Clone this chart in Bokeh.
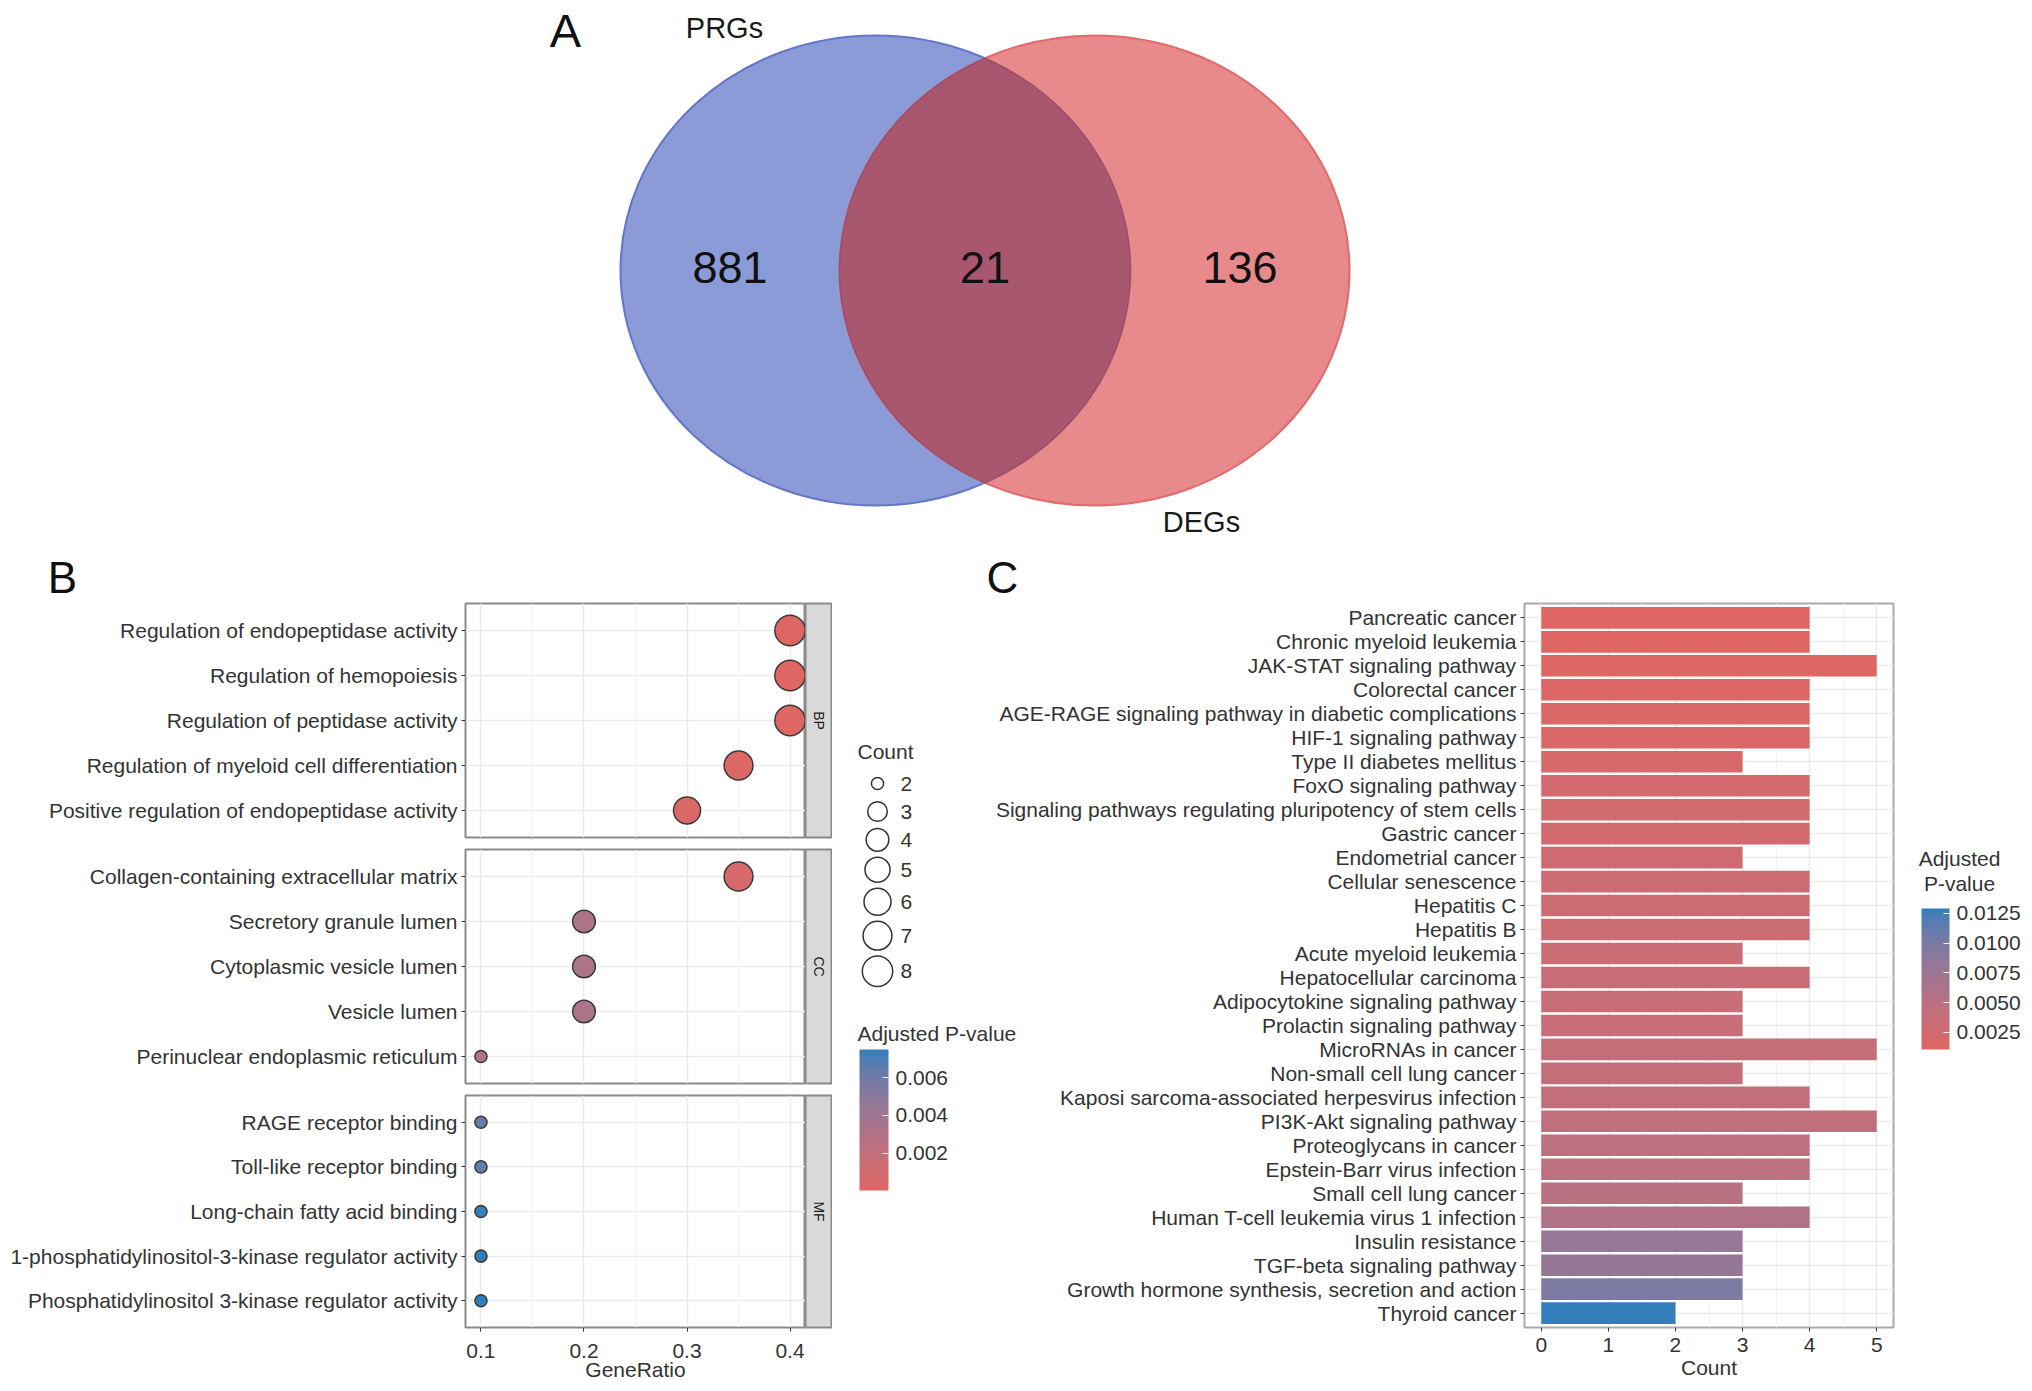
import math
import numpy as np
from bokeh.plotting import figure
from bokeh.layouts import row, column
from bokeh.models import (Range1d, FactorRange, FixedTicker, LinearColorMapper, ColorBar,
                          PrintfTickFormatter, ColumnDataSource, Grid, LinearAxis)
from bokeh.core.properties import value
from bokeh.embed import file_html
from bokeh.resources import INLINE

FONT = "Liberation Sans"
TXT = "#333333"

# ---------------- data ----------------
venn_sets = ["PRGs", "DEGs"]
venn_counts = [881, 21, 136]          # PRGs only, both, DEGs only

go_terms = [
    "Regulation of endopeptidase activity",
    "Regulation of hemopoiesis",
    "Regulation of peptidase activity",
    "Regulation of myeloid cell differentiation",
    "Positive regulation of endopeptidase activity",
    "Collagen-containing extracellular matrix",
    "Secretory granule lumen",
    "Cytoplasmic vesicle lumen",
    "Vesicle lumen",
    "Perinuclear endoplasmic reticulum",
    "RAGE receptor binding",
    "Toll-like receptor binding",
    "Long-chain fatty acid binding",
    "1-phosphatidylinositol-3-kinase regulator activity",
    "Phosphatidylinositol 3-kinase regulator activity",
]
go_ontology = ["BP", "BP", "BP", "BP", "BP",
               "CC", "CC", "CC", "CC", "CC",
               "MF", "MF", "MF", "MF", "MF"]
go_gene_ratio = [0.40, 0.40, 0.40, 0.35, 0.30,
                 0.35, 0.20, 0.20, 0.20, 0.10,
                 0.10, 0.10, 0.10, 0.10, 0.10]
go_count = [8, 8, 8, 7, 6,
            7, 4, 4, 4, 2,
            2, 2, 2, 2, 2]
go_padj = [0.00002, 0.00005, 0.00006, 0.00020, 0.00040,
           0.00060, 0.00330, 0.00330, 0.00335, 0.00290,
           0.00620, 0.00625, 0.00740, 0.00748, 0.00750]

kegg_terms = [
    "Pancreatic cancer",
    "Chronic myeloid leukemia",
    "JAK-STAT signaling pathway",
    "Colorectal cancer",
    "AGE-RAGE signaling pathway in diabetic complications",
    "HIF-1 signaling pathway",
    "Type II diabetes mellitus",
    "FoxO signaling pathway",
    "Signaling pathways regulating pluripotency of stem cells",
    "Gastric cancer",
    "Endometrial cancer",
    "Cellular senescence",
    "Hepatitis C",
    "Hepatitis B",
    "Acute myeloid leukemia",
    "Hepatocellular carcinoma",
    "Adipocytokine signaling pathway",
    "Prolactin signaling pathway",
    "MicroRNAs in cancer",
    "Non-small cell lung cancer",
    "Kaposi sarcoma-associated herpesvirus infection",
    "PI3K-Akt signaling pathway",
    "Proteoglycans in cancer",
    "Epstein-Barr virus infection",
    "Small cell lung cancer",
    "Human T-cell leukemia virus 1 infection",
    "Insulin resistance",
    "TGF-beta signaling pathway",
    "Growth hormone synthesis, secretion and action",
    "Thyroid cancer",
]
kegg_count = [4, 4, 5, 4, 4, 4, 3, 4, 4, 4,
              3, 4, 4, 4, 3, 4, 3, 3, 5, 3,
              4, 5, 4, 4, 3, 4, 3, 3, 3, 2]
kegg_padj = [0.00107, 0.00110, 0.00130, 0.00150, 0.00170, 0.00180, 0.00210, 0.00240, 0.00260, 0.00265,
             0.00290, 0.00310, 0.00320, 0.00330, 0.00340, 0.00360, 0.00370, 0.00375, 0.00390, 0.00400,
             0.00420, 0.00450, 0.00470, 0.00490, 0.00520, 0.00570, 0.00800, 0.00820, 0.00980, 0.01292]

count_breaks = [2, 3, 4, 5, 6, 7, 8]
go_padj_ticks = [0.002, 0.004, 0.006]
kegg_padj_ticks = [0.0025, 0.0050, 0.0075, 0.0100, 0.0125]
gene_ratio_ticks = [0.1, 0.2, 0.3, 0.4]
count_ticks = [0, 1, 2, 3, 4, 5]

# ---------------- colour scale (Lab interpolation like ggplot2) ----------------
WHITE = (0.95047, 1.0, 1.08883)


def _lin(c):
    return c / 12.92 if c <= 0.04045 else ((c + 0.055) / 1.055) ** 2.4


def _delin(c):
    return 12.92 * c if c <= 0.0031308 else 1.055 * c ** (1 / 2.4) - 0.055


def hex_to_lab(h):
    r, g, b = [_lin(int(h[i:i + 2], 16) / 255) for i in (1, 3, 5)]
    X = 0.4124564 * r + 0.3575761 * g + 0.1804375 * b
    Y = 0.2126729 * r + 0.7151522 * g + 0.0721750 * b
    Z = 0.0193339 * r + 0.1191920 * g + 0.9503041 * b

    def f(t):
        return t ** (1 / 3) if t > (6 / 29) ** 3 else t / (3 * (6 / 29) ** 2) + 4 / 29
    fx, fy, fz = f(X / WHITE[0]), f(Y / WHITE[1]), f(Z / WHITE[2])
    return (116 * fy - 16, 500 * (fx - fy), 200 * (fy - fz))


def lab_to_hex(lab):
    L, a, b = lab
    fy = (L + 16) / 116
    fx = fy + a / 500
    fz = fy - b / 200

    def finv(t):
        return t ** 3 if t > 6 / 29 else 3 * (6 / 29) ** 2 * (t - 4 / 29)
    X, Y, Z = WHITE[0] * finv(fx), WHITE[1] * finv(fy), WHITE[2] * finv(fz)
    r = 3.2404542 * X - 1.5371385 * Y - 0.4985314 * Z
    g = -0.9692660 * X + 1.8760108 * Y + 0.0415560 * Z
    bb = 0.0556434 * X - 0.2040259 * Y + 1.0572252 * Z
    out = [min(1.0, max(0.0, _delin(min(1.0, max(0.0, c))))) for c in (r, g, bb)]
    return "#%02x%02x%02x" % tuple(int(round(c * 255)) for c in out)


LOW, HIGH = "#e06663", "#327eba"
_l0, _l1 = np.array(hex_to_lab(LOW)), np.array(hex_to_lab(HIGH))
PALETTE = [lab_to_hex(_l0 + (_l1 - _l0) * t) for t in np.linspace(0, 1, 256)]

mapper_go = LinearColorMapper(palette=PALETTE, low=min(go_padj), high=max(go_padj))
mapper_kegg = LinearColorMapper(palette=PALETTE, low=min(kegg_padj), high=max(kegg_padj))

CMIN, CMAX = min(go_count), max(go_count)


def dot_size(c):
    return 3.8 * (3.2 + 4.8 * math.sqrt((c - CMIN) / (CMAX - CMIN)))


def bare(p):
    p.xaxis.visible = False
    p.yaxis.visible = False
    for g in p.grid:
        g.visible = False


def txt(p, x, y, s, size="21px", align="left", color=TXT, baseline="middle", angle=0.0):
    p.text(x=[x], y=[y], text=[s], text_font=value(FONT), text_font_size=size,
           text_align=align, text_baseline=baseline, text_color=color, angle=angle)


# page geometry (pixels)
W, H = 2032, 1391
VENN_H = 602
BOT_H = H - VENN_H
FRAME_TOP, FRAME_BOT = 603, 1327      # shared top / bottom of the lower plot frames
BORDER_TOP, BORDER_BOT = FRAME_TOP - VENN_H, H - FRAME_BOT

# ---------------- panel A: Venn ----------------
venn = figure(width=W, height=VENN_H, x_range=Range1d(0, W), y_range=Range1d(VENN_H, 0),
              min_border=0, toolbar_location=None, output_backend="svg",
              x_axis_location=None, y_axis_location=None, outline_line_color=None)
bare(venn)
cx_l, cx_r, cy, rx, ry = 875, 1094, 270, 255, 235
venn.ellipse(x=[cx_l], y=[cy], width=2 * rx, height=2 * ry, fill_color="#8a9bd8",
             line_color="#6476c8", line_width=2)
venn.ellipse(x=[cx_r], y=[cy], width=2 * rx, height=2 * ry, fill_color="#e8898b",
             line_color="#e06a6c", line_width=2)
t_int = math.acos(((cx_l + cx_r) / 2 - cx_l) / rx)
th = np.linspace(-t_int, t_int, 120)
ph = np.linspace(math.pi - t_int, math.pi + t_int, 120)
lens_x = np.concatenate([cx_l + rx * np.cos(th), cx_r + rx * np.cos(ph)])
lens_y = np.concatenate([cy + ry * np.sin(th), cy + ry * np.sin(ph)])
venn.patch(lens_x, lens_y, fill_color="#a9566f", line_color="#9b4f6c", line_width=1.5)
lens_l, lens_r = cx_r - rx, cx_l + rx
region_x = [(cx_l - rx + lens_l) / 2, (lens_l + lens_r) / 2, (lens_r + cx_r + rx) / 2]
for xx, n in zip(region_x, venn_counts):
    txt(venn, xx, cy - 3, str(n), size="45px", align="center", color="#111111")
txt(venn, 724, 27, venn_sets[0], size="29px", align="center", color="#1a1a1a")
txt(venn, 1201, 521, venn_sets[1], size="29px", align="center", color="#1a1a1a")
txt(venn, 565, 30, "A", size="47px", align="center", color="#111111")
txt(venn, 62, 577, "B", size="44px", align="center", color="#111111")
txt(venn, 1002, 577, "C", size="44px", align="center", color="#111111")

# ---------------- panel B: GO dot plot ----------------
x_range_b = Range1d(0.085, 0.415)
minor_b = [(a + b) / 2 for a, b in zip(gene_ratio_ticks[:-1], gene_ratio_ticks[1:])]
facet_layout = {"BP": (241, BORDER_TOP, 6), "CC": (246, 6, 6), "MF": (302, 6, BORDER_BOT)}
rows_b = []
for facet in ["BP", "CC", "MF"]:
    h, top, bot = facet_layout[facet]
    idx = [i for i, o in enumerate(go_ontology) if o == facet]
    terms = [go_terms[i] for i in idx]
    src = ColumnDataSource(dict(
        x=[go_gene_ratio[i] for i in idx], y=terms,
        size=[dot_size(go_count[i]) for i in idx], padj=[go_padj[i] for i in idx]))
    p = figure(width=805, height=h, x_range=x_range_b,
               y_range=FactorRange(factors=terms[::-1], range_padding=0.04),
               min_border_left=465, min_border_right=0, min_border_top=top, min_border_bottom=bot,
               toolbar_location=None, output_backend="svg", x_axis_location=None,
               outline_line_color="#8a8a8a", outline_line_width=2)
    for g in p.xgrid:
        g.visible = False
    p.add_layout(Grid(dimension=0, ticker=FixedTicker(ticks=gene_ratio_ticks, minor_ticks=minor_b),
                      grid_line_color="#ebebeb", grid_line_width=1.5,
                      minor_grid_line_color="#f3f3f3", minor_grid_line_width=1))
    p.ygrid.grid_line_color = "#ebebeb"
    p.ygrid.grid_line_width = 1.5
    p.yaxis.axis_line_color = None
    p.yaxis.major_tick_out = 4
    p.yaxis.major_tick_in = 0
    p.yaxis.major_tick_line_color = TXT
    p.yaxis.major_label_standoff = 4
    p.yaxis.major_label_text_font = FONT
    p.yaxis.major_label_text_font_size = "21px"
    p.yaxis.major_label_text_color = TXT
    if facet == "MF":
        ax = LinearAxis(ticker=FixedTicker(ticks=gene_ratio_ticks), axis_label="GeneRatio",
                        axis_line_color=None, major_tick_out=4, major_tick_in=0,
                        major_tick_line_color=TXT, minor_tick_line_color=None,
                        major_label_standoff=12, axis_label_standoff=-3,
                        major_label_text_font=FONT, major_label_text_font_size="21px",
                        major_label_text_color=TXT, axis_label_text_font=FONT,
                        axis_label_text_font_size="21px", axis_label_text_color=TXT,
                        axis_label_text_font_style="normal")
        p.add_layout(ax, "below")
    p.scatter(x="x", y="y", size="size", source=src, marker="circle",
              fill_color={"field": "padj", "transform": mapper_go},
              line_color="#3a3a3a", line_width=1.5)

    s = figure(width=27, height=h, x_range=Range1d(0, 1), y_range=Range1d(0, 1),
               min_border_left=0, min_border_right=1, min_border_top=top, min_border_bottom=bot,
               toolbar_location=None, output_backend="svg", x_axis_location=None,
               y_axis_location=None, background_fill_color="#d9d9d9",
               outline_line_color="#8a8a8a", outline_line_width=2)
    bare(s)
    txt(s, 0.5, 0.5, facet, size="14px", align="center", color="#1a1a1a", angle=-math.pi / 2)
    rows_b.append(row(p, s))
col_b = column(*rows_b)

# ---------------- legends of panel B ----------------
leg_b = figure(width=185, height=BOT_H, x_range=Range1d(832, 1017),
               y_range=Range1d(FRAME_BOT, FRAME_TOP),
               min_border_left=0, min_border_right=0, min_border_top=BORDER_TOP,
               min_border_bottom=BORDER_BOT, toolbar_location=None, output_backend="svg",
               x_axis_location=None, y_axis_location=None, outline_line_color=None)
bare(leg_b)
txt(leg_b, 857, 751, "Count")
key_d = [dot_size(c) for c in count_breaks]
key_h = [max(28.0, d + 6.0) for d in key_d]
key_y = [783.0]
for k in range(1, len(count_breaks)):
    key_y.append(key_y[-1] + (key_h[k - 1] + key_h[k]) / 2)
leg_b.scatter(x=[877] * len(count_breaks), y=key_y, size=key_d,
              marker="circle", fill_color=None, line_color="#333333", line_width=1.5)
for yy, c in zip(key_y, count_breaks):
    txt(leg_b, 900, yy, str(c))
txt(leg_b, 857, 1033, "Adjusted P-value")
cb_b = ColorBar(color_mapper=mapper_go, location=(27, FRAME_BOT - 1190), width=29, height=141,
                padding=0, ticker=FixedTicker(ticks=go_padj_ticks),
                formatter=PrintfTickFormatter(format="%.3f"),
                major_label_text_font=FONT, major_label_text_font_size="21px",
                major_label_text_color=TXT, label_standoff=7, major_tick_line_color="white",
                major_tick_in=6, major_tick_out=0, bar_line_color=None,
                background_fill_color=None, border_line_color=None)
leg_b.add_layout(cb_b)

# ---------------- panel C: KEGG bar plot ----------------
OVERLAP = 25
src_c = ColumnDataSource(dict(y=kegg_terms, count=kegg_count, padj=kegg_padj))
pc = figure(width=881 + OVERLAP, height=BOT_H, x_range=Range1d(-0.25, 5.25),
            y_range=FactorRange(factors=kegg_terms[::-1], range_padding=0.2 / len(kegg_terms)),
            min_border_left=506 + OVERLAP, min_border_right=5, min_border_top=BORDER_TOP,
            min_border_bottom=BORDER_BOT, toolbar_location=None, output_backend="svg",
            outline_line_color="#aaaaaa", outline_line_width=2, border_fill_color=None,
            margin=(0, 0, 0, -OVERLAP))
minor_c = [(a + b) / 2 for a, b in zip(count_ticks[:-1], count_ticks[1:])]
pc.xaxis.ticker = FixedTicker(ticks=count_ticks, minor_ticks=minor_c)
pc.xgrid.grid_line_color = "#ebebeb"
pc.xgrid.grid_line_width = 1.5
pc.xgrid.minor_grid_line_color = "#f3f3f3"
pc.xgrid.minor_grid_line_width = 1
pc.ygrid.grid_line_color = "#ebebeb"
pc.ygrid.grid_line_width = 1.5
for ax in (pc.xaxis, pc.yaxis):
    ax.axis_line_color = None
    ax.major_tick_out = 4
    ax.major_tick_in = 0
    ax.major_tick_line_color = TXT
    ax.minor_tick_line_color = None
    ax.major_label_text_font = FONT
    ax.major_label_text_font_size = "21px"
    ax.major_label_text_color = TXT
pc.yaxis.major_label_standoff = 4
pc.xaxis.major_label_standoff = 6
pc.xaxis.axis_label = "Count"
pc.xaxis.axis_label_standoff = 1
pc.xaxis.axis_label_text_font = FONT
pc.xaxis.axis_label_text_font_size = "21px"
pc.xaxis.axis_label_text_color = TXT
pc.xaxis.axis_label_text_font_style = "normal"
pc.hbar(y="y", left=0, right="count", height=0.9, source=src_c,
        fill_color={"field": "padj", "transform": mapper_kegg}, line_color=None)

leg_c = figure(width=W - 1898, height=BOT_H, x_range=Range1d(1898, W),
               y_range=Range1d(FRAME_BOT, FRAME_TOP),
               min_border_left=0, min_border_right=0, min_border_top=BORDER_TOP,
               min_border_bottom=BORDER_BOT, toolbar_location=None, output_backend="svg",
               x_axis_location=None, y_axis_location=None, outline_line_color=None)
bare(leg_c)
txt(leg_c, 1959, 858, "Adjusted", align="center")
txt(leg_c, 1959, 883, "P-value", align="center")
cb_c = ColorBar(color_mapper=mapper_kegg, location=(23, FRAME_BOT - 1049), width=28, height=141,
                padding=0, ticker=FixedTicker(ticks=kegg_padj_ticks),
                formatter=PrintfTickFormatter(format="%.4f"),
                major_label_text_font=FONT, major_label_text_font_size="21px",
                major_label_text_color=TXT, label_standoff=7, major_tick_line_color="white",
                major_tick_in=6, major_tick_out=0, bar_line_color=None,
                background_fill_color=None, border_line_color=None)
leg_c.add_layout(cb_c)

layout = column(venn, row(col_b, leg_b, pc, leg_c))
open("out.html", "w").write(file_html(layout, INLINE))
